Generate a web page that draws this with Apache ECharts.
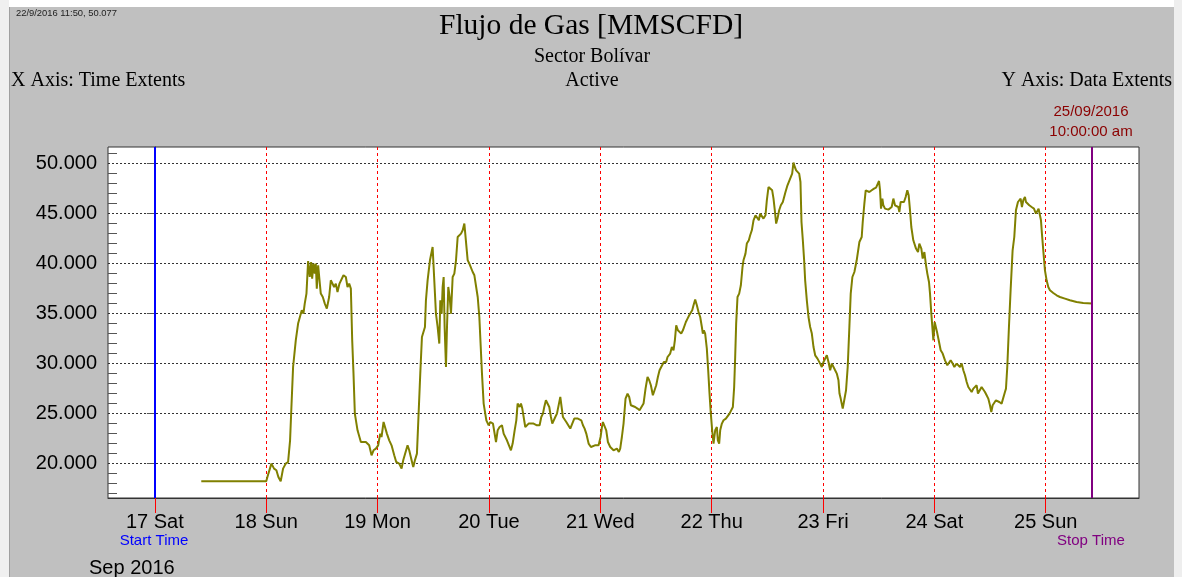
<!DOCTYPE html>
<html>
<head>
<meta charset="utf-8">
<script src="https://cdn.jsdelivr.net/npm/echarts@6/dist/echarts.min.js"></script>
<style>
html,body{margin:0;padding:0;background:#c0c0c0;overflow:hidden;}
#chart{width:1182px;height:577px;}
</style>
</head>
<body>
<div id="chart"></div>
<script>
// ---- data (x = hours since 17 Sep 2016 00:00) ----
const dayHours = [0, 24, 48, 72, 96, 120, 144, 168, 192];
const dayLabels = ['17 Sat', '18 Sun', '19 Mon', '20 Tue', '21 Wed', '22 Thu', '23 Fri', '24 Sat', '25 Sun'];
const yTicks = [20, 25, 30, 35, 40, 45, 50];
const yMinorTicks = [17, 18, 19, 21, 22, 23, 24, 26, 27, 28, 29, 31, 32, 33, 34, 36, 37, 38, 39, 41, 42, 43, 44, 46, 47, 48, 49, 51];
const startHour = 0;   // 17/09/2016 00:00
const stopHour = 202;  // 25/09/2016 10:00

const hours = [
  10.0, 24.0, 24.47, 25.12, 25.69, 26.19, 26.62, 27.12, 27.63, 28.2, 28.71, 29.14, 29.43, 29.79, 30.37, 30.87,
  31.3, 31.66, 32.02, 32.3, 32.67, 33.03, 33.39, 33.68, 33.9, 34.18, 34.47, 34.69, 34.9, 35.19, 35.55, 35.76,
  36.19, 36.63, 37.06, 37.56, 37.92, 38.28, 38.64, 39.0, 39.36, 39.79, 40.22, 40.65, 41.16, 41.52, 41.88, 42.24,
  42.53, 42.81, 43.1, 43.68, 44.4, 44.83, 45.47, 46.19, 46.7, 47.13, 47.63, 48.13, 48.56, 48.85, 49.29, 49.65,
  50.01, 50.51, 51.01, 51.59, 52.02, 52.3, 52.66, 53.17, 53.53, 53.96, 54.46, 54.82, 55.33, 55.69, 56.05, 56.48,
  56.84, 57.2, 57.56, 57.92, 58.21, 58.42, 58.78, 59.29, 59.86, 60.22, 60.58, 60.94, 61.3, 61.52, 61.81, 62.02,
  62.24, 62.45, 62.74, 62.96, 63.24, 63.53, 63.82, 64.18, 64.54, 64.9, 65.26, 65.98, 66.34, 66.7, 67.06, 67.42,
  67.78, 68.14, 68.5, 68.86, 69.22, 69.58, 69.93, 70.5, 70.86, 71.44, 71.94, 72.3, 72.87, 73.16, 73.52, 73.88,
  74.3, 74.81, 75.17, 75.52, 75.88, 76.31, 76.74, 77.11, 77.54, 77.9, 78.18, 78.62, 78.9, 79.19, 79.48, 79.83,
  80.19, 80.55, 80.91, 81.62, 82.34, 82.92, 83.28, 83.64, 83.92, 84.28, 84.64, 85.0, 85.36, 85.65, 85.94, 86.3,
  86.66, 87.09, 87.38, 87.66, 87.95, 88.31, 88.67, 89.1, 89.53, 89.96, 90.39, 90.82, 91.18, 91.54, 91.9, 92.26,
  92.62, 92.98, 93.48, 93.98, 94.41, 94.84, 95.27, 95.63, 96.06, 96.35, 96.56, 96.92, 97.28, 97.64, 98.14, 98.5,
  98.85, 99.21, 99.57, 100.0, 100.29, 100.65, 101.01, 101.44, 101.87, 102.23, 102.59, 103.02, 103.52, 104.02, 104.46, 104.89,
  105.32, 105.75, 106.18, 106.54, 106.9, 107.33, 107.69, 108.05, 108.41, 108.77, 109.13, 109.49, 109.7, 109.99, 110.2, 110.49,
  110.78, 111.06, 111.42, 111.78, 112.07, 112.36, 112.72, 113.08, 113.44, 113.8, 114.16, 114.44, 114.8, 115.16, 115.52, 115.81,
  116.09, 116.45, 116.81, 117.17, 117.53, 117.89, 118.1, 118.32, 118.6, 118.96, 119.25, 119.54, 119.82, 120.11, 120.4, 120.76,
  121.12, 121.33, 121.62, 121.84, 122.2, 122.56, 123.06, 123.49, 123.85, 124.21, 124.57, 124.85, 125.07, 125.28, 125.57, 125.93,
  126.29, 126.65, 126.86, 127.29, 127.58, 128.01, 128.3, 128.66, 129.02, 129.45, 129.88, 130.17, 130.45, 130.81, 131.17, 131.6,
  131.89, 132.25, 132.61, 133.04, 133.33, 133.61, 133.9, 134.19, 134.55, 134.91, 135.34, 135.62, 135.91, 136.34, 136.77, 137.06,
  137.35, 137.63, 137.92, 138.21, 138.57, 138.86, 139.14, 139.36, 139.65, 139.93, 140.15, 140.51, 140.87, 141.23, 141.59, 141.95,
  142.31, 142.81, 143.38, 143.74, 144.1, 144.46, 144.82, 145.18, 145.54, 145.9, 146.25, 146.61, 146.97, 147.33, 147.55, 147.81,
  148.25, 148.53, 148.96, 149.32, 149.68, 149.97, 150.33, 150.76, 151.26, 151.84, 152.34, 152.56, 152.91, 153.2, 153.56, 153.99,
  154.49, 154.99, 155.43, 155.71, 156.07, 156.29, 156.5, 156.79, 157.0, 157.36, 157.72, 158.08, 158.44, 158.8, 159.16, 159.51,
  159.87, 160.23, 160.45, 160.73, 161.09, 161.45, 161.81, 162.17, 162.46, 162.75, 163.03, 163.46, 164.04, 164.47, 164.76, 165.19,
  165.48, 165.84, 166.2, 166.48, 166.84, 167.06, 167.34, 167.56, 167.78, 168.06, 168.35, 168.64, 168.93, 169.36, 169.79, 170.29,
  170.79, 171.22, 171.51, 171.94, 172.3, 172.8, 173.16, 173.52, 173.88, 174.24, 174.6, 174.96, 175.31, 175.67, 176.03, 176.39,
  176.75, 177.11, 177.39, 177.82, 178.18, 178.54, 178.9, 179.26, 179.62, 179.98, 180.27, 180.56, 180.84, 181.27, 181.63, 181.99,
  182.49, 182.85, 183.21, 183.43, 183.71, 184.07, 184.43, 184.86, 185.22, 185.58, 186.01, 186.3, 186.59, 186.87, 187.16, 187.52,
  187.74, 188.02, 188.45, 188.96, 189.46, 189.89, 190.18, 190.46, 190.75, 190.97, 191.18, 191.47, 191.83, 192.19, 192.55, 192.91,
  193.63, 194.34, 195.06, 196.14, 197.21, 198.65, 200.08, 202.0
];
const flow = [
  18.17, 18.17, 18.94, 19.94, 19.44, 19.27, 18.6, 18.17, 19.44, 19.94, 20.1, 22.27, 25.6, 29.6, 32.27, 33.94,
  33.94, 35.27, 34.94, 35.94, 36.94, 40.2, 38.6, 40.1, 38.44, 39.94, 38.94, 39.94, 37.44, 39.77, 37.94, 36.94,
  36.6, 35.94, 35.44, 36.6, 38.27, 38.44, 37.6, 37.94, 37.1, 37.94, 37.77, 38.77, 38.6, 37.6, 37.94, 37.44,
  32.27, 28.94, 24.94, 23.27, 22.1, 22.27, 22.1, 21.77, 20.77, 21.27, 21.44, 21.77, 22.94, 22.6, 24.1, 24.1,
  22.94, 22.27, 21.77, 20.77, 20.1, 20.27, 19.94, 19.44, 20.27, 20.27, 21.77, 21.27, 20.27, 19.6, 20.27, 20.94,
  24.94, 28.94, 32.6, 32.77, 33.6, 36.27, 38.27, 40.27, 41.6, 41.77, 34.94, 33.6, 31.94, 36.27, 34.94, 37.6,
  38.6, 33.6, 29.6, 33.6, 37.6, 36.6, 34.94, 38.6, 38.94, 40.27, 42.6, 42.94, 43.27, 43.94, 43.77, 40.27,
  39.94, 39.77, 39.1, 38.77, 38.94, 36.6, 34.6, 28.94, 25.94, 24.27, 23.77, 24.1, 23.94, 23.77, 22.1, 23.27,
  23.6, 23.77, 22.94, 22.94, 22.27, 21.77, 21.27, 21.94, 23.27, 24.27, 25.94, 25.6, 25.94, 25.44, 24.6, 23.6,
  23.6, 23.94, 24.1, 23.94, 23.77, 23.77, 24.6, 24.94, 25.6, 26.27, 26.27, 25.6, 24.6, 23.94, 23.77, 24.6,
  24.94, 25.94, 26.6, 25.6, 24.6, 24.44, 24.1, 23.77, 23.44, 23.27, 24.44, 24.6, 24.44, 24.6, 24.27, 23.77,
  23.44, 22.94, 21.94, 21.6, 21.6, 21.77, 21.6, 21.77, 22.6, 23.6, 24.1, 23.94, 23.27, 22.1, 21.6, 21.77,
  21.27, 21.1, 21.44, 21.1, 21.44, 22.6, 23.94, 26.44, 26.94, 26.6, 25.77, 25.6, 25.6, 25.44, 25.27, 25.1,
  25.94, 27.44, 28.6, 28.27, 27.77, 26.77, 26.94, 27.77, 28.6, 29.27, 29.6, 29.44, 30.1, 30.27, 30.1, 30.6,
  30.77, 30.94, 31.6, 31.27, 32.27, 33.77, 33.27, 33.27, 32.94, 33.27, 33.44, 34.1, 34.44, 34.77, 34.77, 35.27,
  35.77, 36.34, 35.77, 35.1, 34.6, 33.6, 32.94, 33.27, 32.94, 31.44, 29.27, 26.94, 24.94, 23.27, 21.94, 23.27,
  23.6, 22.27, 21.94, 23.27, 23.94, 24.27, 24.44, 24.6, 24.94, 24.94, 25.6, 27.6, 30.6, 33.94, 36.6, 36.94,
  37.77, 39.6, 40.27, 40.94, 41.94, 42.27, 42.77, 43.27, 44.27, 44.77, 44.94, 44.27, 44.94, 44.94, 44.44, 44.77,
  46.27, 47.6, 47.77, 47.27, 46.44, 45.27, 43.94, 44.44, 45.27, 45.77, 46.1, 46.27, 47.1, 47.77, 48.27, 48.44,
  48.94, 50.05, 49.6, 49.27, 49.27, 48.94, 48.1, 44.1, 42.27, 40.27, 38.27, 36.27, 34.6, 33.6, 32.94, 31.6,
  30.77, 30.44, 29.94, 29.6, 30.1, 30.27, 30.77, 30.1, 29.27, 29.94, 30.1, 29.27, 28.94, 28.27, 26.94, 26.44,
  25.44, 25.27, 27.27, 29.6, 33.6, 36.94, 38.6, 39.1, 40.27, 42.1, 42.6, 44.1, 45.94, 47.27, 47.1, 47.1,
  47.27, 47.44, 47.54, 47.67, 48.2, 47.27, 45.44, 46.44, 45.77, 45.44, 45.27, 45.34, 45.27, 45.6, 46.44, 45.77,
  45.94, 45.6, 45.1, 46.1, 45.94, 46.1, 46.6, 47.27, 46.77, 45.27, 43.6, 42.27, 41.44, 41.1, 41.94, 41.44,
  40.44, 41.1, 39.77, 38.94, 38.1, 36.94, 34.94, 33.6, 32.27, 34.1, 34.27, 32.94, 32.27, 31.27, 30.94, 30.27,
  29.77, 29.94, 30.27, 29.94, 29.6, 29.94, 29.77, 29.6, 29.94, 29.27, 28.77, 28.1, 27.6, 27.77, 27.1, 27.44,
  27.6, 27.77, 26.94, 27.1, 27.6, 27.77, 27.1, 26.77, 26.44, 25.77, 25.1, 25.77, 25.94, 26.27, 26.44, 26.1,
  25.94, 26.1, 27.1, 27.44, 29.6, 33.6, 37.27, 41.27, 42.6, 45.27, 46.1, 46.27, 46.44, 45.6, 46.27, 46.6,
  46.1, 45.94, 45.77, 45.6, 45.44, 44.94, 45.1, 45.44, 44.77, 44.27, 42.94, 41.27, 39.27, 38.27, 37.6, 37.27,
  37.0, 36.77, 36.6, 36.44, 36.27, 36.1, 36.0, 35.94
];

const seriesData = hours.map((h, i) => [h, flow[i]]);

const chart = echarts.init(document.getElementById('chart'), null, { renderer: 'canvas' });

const SANS = 'Liberation Sans, Arial, sans-serif';
const SERIF = 'Liberation Serif, Times New Roman, serif';

const option = {
  animation: false,
  backgroundColor: '#c0c0c0',
  grid: {
    left: 108, top: 147, width: 1031, height: 351,
    show: true, backgroundColor: '#ffffff', borderColor: '#333333', borderWidth: 1
  },
  xAxis: {
    type: 'value', min: -10.1, max: 212.1,
    axisLine: { show: true, onZero: false, lineStyle: { color: '#333333', width: 1 } },
    axisTick: { show: true, customValues: dayHours, length: 15, lineStyle: { color: '#ff0000', width: 1 } },
    axisLabel: {
      customValues: dayHours,
      formatter: v => dayLabels[dayHours.indexOf(v)],
      fontSize: 20, fontFamily: SANS, color: '#000000', margin: 14
    },
    splitLine: { show: true, lineStyle: { color: '#ff0000', type: [3, 3], width: 1 } }
  },
  yAxis: [{
    type: 'value', min: 16.5, max: 51.6,
    axisLine: { show: true, lineStyle: { color: '#333333', width: 1 } },
    axisTick: { show: true, customValues: yTicks, length: 8, lineStyle: { color: '#555555', width: 1 } },
    axisLabel: {
      customValues: yTicks,
      formatter: v => v.toFixed(3),
      fontSize: 20, fontFamily: SANS, color: '#000000', margin: 11
    },
    splitLine: { show: true, lineStyle: { color: '#333333', type: [2, 2], width: 1 } }
  }, {
    type: 'value', min: 16.5, max: 51.6, position: 'left',
    axisLine: { show: false },
    axisTick: { show: true, inside: true, customValues: yMinorTicks, length: 9, lineStyle: { color: '#555555', width: 1 } },
    axisLabel: { show: false },
    splitLine: { show: false }
  }],
  series: [{
    type: 'line',
    data: seriesData,
    showSymbol: false,
    symbol: 'none',
    smooth: false,
    lineStyle: { color: '#808000', width: 2 },
    markLine: {
      silent: true,
      symbol: 'none',
      label: { show: false },
      data: [
        { xAxis: startHour, lineStyle: { color: '#0000ff', width: 2, type: 'solid' } },
        { xAxis: stopHour, lineStyle: { color: '#800080', width: 2, type: 'solid' } }
      ]
    }
  }],
  graphic: [
    { type: 'rect', shape: { x: 0, y: 0, width: 1182, height: 7 }, style: { fill: '#ffffff' } },
    { type: 'rect', shape: { x: 0, y: 0, width: 9, height: 577 }, style: { fill: '#f0f0f0' } },
    { type: 'rect', shape: { x: 9, y: 7, width: 1, height: 570 }, style: { fill: '#a0a0a0' } },
    { type: 'rect', shape: { x: 1174, y: 0, width: 8, height: 577 }, style: { fill: '#eeeeee' } },
    { type: 'text', x: 16, y: 13, style: { text: '22/9/2016 11:50, 50.077', font: '9.4px ' + SANS, fill: '#222222', textAlign: 'left', textVerticalAlign: 'middle' } },
    { type: 'text', x: 591, y: 26, style: { text: 'Flujo de Gas [MMSCFD]', font: '29.5px ' + SERIF, fill: '#000000', textAlign: 'center', textVerticalAlign: 'middle' } },
    { type: 'text', x: 592, y: 57, style: { text: 'Sector Bolívar', font: '20px ' + SERIF, fill: '#000000', textAlign: 'center', textVerticalAlign: 'middle' } },
    { type: 'text', x: 592, y: 81, style: { text: 'Active', font: '20px ' + SERIF, fill: '#000000', textAlign: 'center', textVerticalAlign: 'middle' } },
    { type: 'text', x: 11, y: 81, style: { text: 'X Axis: Time Extents', font: '20px ' + SERIF, fill: '#000000', textAlign: 'left', textVerticalAlign: 'middle' } },
    { type: 'text', x: 1172, y: 81, style: { text: 'Y Axis: Data Extents', font: '20px ' + SERIF, fill: '#000000', textAlign: 'right', textVerticalAlign: 'middle' } },
    { type: 'text', x: 1091, y: 112, style: { text: '25/09/2016', font: '15px ' + SANS, fill: '#8b0000', textAlign: 'center', textVerticalAlign: 'middle' } },
    { type: 'text', x: 1091, y: 132, style: { text: '10:00:00 am', font: '15px ' + SANS, fill: '#8b0000', textAlign: 'center', textVerticalAlign: 'middle' } },
    { type: 'text', x: 154, y: 541, style: { text: 'Start Time', font: '15px ' + SANS, fill: '#0000ff', textAlign: 'center', textVerticalAlign: 'middle' } },
    { type: 'text', x: 1091, y: 541, style: { text: 'Stop Time', font: '15px ' + SANS, fill: '#800080', textAlign: 'center', textVerticalAlign: 'middle' } },
    { type: 'text', x: 89, y: 568, style: { text: 'Sep 2016', font: '20px ' + SANS, fill: '#000000', textAlign: 'left', textVerticalAlign: 'middle' } }
  ]
};

chart.setOption(option);
</script>
</body>
</html>
